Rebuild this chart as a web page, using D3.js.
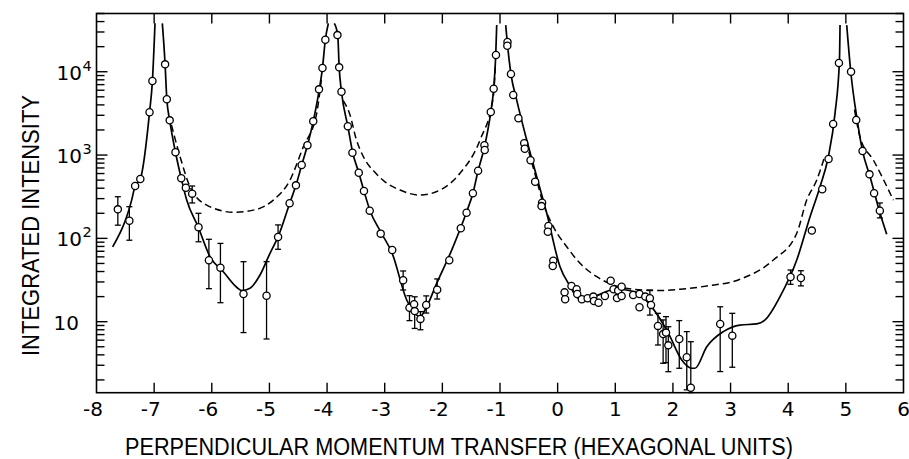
<!DOCTYPE html>
<html><head><meta charset="utf-8">
<script src="https://cdn.jsdelivr.net/npm/d3@7/dist/d3.min.js"></script>
<style>body{margin:0;background:#fff}svg{display:block}</style>
</head><body><svg id="c" width="909" height="459"></svg>
<script>
// ---------- data ----------
const xTickValues = [-8,-7,-6,-5,-4,-3,-2,-1,0,1,2,3,4,5,6];
const yDecades = [10, 100, 1000, 10000];
const yDecadeExp = ["", "2", "3", "4"];
const xTitle = "PERPENDICULAR MOMENTUM TRANSFER (HEXAGONAL UNITS)";
const yTitle = "INTEGRATED INTENSITY";

// observed points: momentum transfer q and intensity
const obsQ = [-7.63,-7.43,-7.33,-7.24,-7.08,-7.03,-6.81,-6.78,-6.73,-6.63,-6.53,-6.45,-6.34,-6.23,-6.05,-5.85,-5.45,-5.05,-4.85,
  -4.65,-4.54,-4.44,-4.34,-4.24,-4.14,-4.08,-4.03,-3.82,-3.79,-3.75,-3.64,-3.56,-3.45,-3.36,-3.26,-3.07,-2.87,-2.68,-2.57,-2.49,
  -2.48,-2.38,-2.28,-2.09,-1.88,-1.68,-1.58,-1.47,-1.38,-1.27,-1.265,-1.16,-1.11,-1.07,-0.87,-0.873,-0.81,-0.77,-0.68,-0.58,
  -0.57,-0.47,-0.39,-0.27,-0.28,-0.16,-0.17,-0.075,-0.085,0.12,0.13,0.24,0.33,0.34,0.42,0.52,0.62,0.63,0.71,0.82,
  0.92,0.97,1.03,1.05,1.11,1.11,1.31,1.42,1.42,1.52,1.60,1.62,1.74,1.83,1.88,1.92,2.11,2.24,2.31,2.82,
  3.03,4.04,4.22,4.41,4.59,4.70,4.78,4.88,5.09,5.18,5.29,5.41,5.49,5.59];
const obsI = [223,163,425,515,3260,7730,12270,4670,2610,1080,526,405,344,136,54.6,44.5,21.5,20.5,104,
  264,433,759,1309,2540,6150,11080,24200,27540,11290,5750,2215,1067,614,370,215,114,72.4,31.4,14.7,16.2,
  13.4,10.8,15.9,24.2,54.6,132,203,348,649,1309,1148,3280,6250,15850,22700,20500,9380,5250,2760,1383,
  1192,865,479,268,244,141,120,54,46.6,22.5,18.6,26.8,24.5,21.5,18.6,19.1,20.0,17.7,16.9,20.3,
  31.0,24.5,19.2,23.6,26.3,20.3,20.9,14.9,21.5,20.0,19.1,15.9,8.9,7.1,7.4,5.2,6.2,3.74,1.61,9.4,
  6.8,34.4,33.4,124,388,896,2355,12710,10000,2630,1117,587,348,215];

// error bars: q, low, high
const errQ    = [-7.63,-7.43,-6.34,-6.23,-6.05,-5.85,-5.45,-5.05,-4.85,-2.68,-2.57,-2.48,-2.38,-2.28,-2.09,
  1.60,1.74,1.83,1.88,1.92,2.11,2.24,2.31,2.82,3.03,4.04,4.22,5.59];
const errLow  = [144,95,266,91,24.9,16.9,7.4,6.2,74,24,10.3,8.3,8.0,12.7,18.7,
  12.0,5.25,3.17,3.22,2.51,2.76,1.52,1.41,2.52,2.84,28.1,26.9,176];
const errHigh = [316,240,425,200,97.5,87,52.5,52.5,145,40.6,20.5,19.9,13.2,20.4,32.6,
  24,12.6,10.5,11.5,8.7,10.3,7.6,5.75,15.1,12.6,41.7,40.9,266];

// solid (fitted) curve, in separate branches
const solidQ = [
  [-7.72,-7.39,-7.33,-7.24,-7.08,-7.03,-6.985],
  [-6.858,-6.81,-6.78,-6.73,-6.63,-6.53,-6.435,-6.234,-6.031,-5.80,-5.568,-5.481,-5.337,-5.163,-4.99,-4.851,-4.648,-4.54,-4.44,-4.34,-4.24,-4.135,-4.08,-4.03,-3.978],
  [-3.874,-3.815,-3.79,-3.75,-3.64,-3.555,-3.45,-3.36,-3.255,-3.07,-2.87,-2.618,-2.445,-2.388,-2.301,-2.098,-1.838,-1.577,-1.47,-1.38,-1.27,-1.16,-1.11,-1.074,-1.057],
  [-0.901,-0.87,-0.81,-0.71,-0.536,-0.363,-0.189,0.041,0.215,0.359,0.649,0.995,1.342,1.603,1.92,2.153,2.327,2.383,2.587,2.875,3.164,3.454,3.598,3.858,4.148,4.379,4.552,4.696,4.812,4.889,4.899],
  [5.015,5.085,5.197,5.29,5.42,5.593,5.709]
];
const solidI = [
  [79,288,425,515,3260,7730,38100],
  [38100,12270,4670,2610,1080,526,288,136,60.3,39.8,25.9,23.6,25.2,36.3,66.2,104,264,433,759,1309,2540,6150,11080,24200,38100],
  [38100,27540,11290,5750,2215,1067,614,370,215,120,66,18.2,12.0,11.5,13.8,28.9,72.4,210,348,649,1250,3280,6250,15850,36300],
  [36300,21000,9380,4570,1514,550,200,45.7,26.8,19.1,20.3,24.5,22.9,15.9,7.3,3.47,2.76,2.76,5.0,7.6,9.1,9.4,10.5,20,55,182,417,955,3170,13800,36300],
  [36300,10000,2630,1117,550,200,112]
];

// dashed curve, in separate branches
const dashQ = [
  [-6.70,-6.55,-6.378,-6.088,-5.627,-5.221,-4.933,-4.643,-4.412,-4.18,-4.10],
  [-3.72,-3.60,-3.50,-3.35,-3.17,-3.00,-2.735,-2.388,-2.041,-1.694,-1.347,-1.116,-1.08],
  [-0.50,-0.37,-0.248,-0.075,0.158,0.388,0.678,0.966,1.313,1.719,2.123,2.587,3.164,3.742,4.148,4.321,4.495,4.62],
  [5.15,5.25,5.477,5.824]
];
const dashI = [
  [2300,955,417,251,206,223,288,501,1259,3170,8000],
  [4500,3000,1600,900,620,480,380,331,380,604,1514,5010,12000],
  [1100,520,260,138,79.4,50.2,34.7,27.5,24.5,23.6,24.5,26.8,32.3,55,115,288,501,900],
  [3500,1600,871,288]
];

// ---------- drawing ----------
const svg = d3.select("#c");
const X0 = 96.5, X1 = 903.5, Y0 = 392.7, Y1 = 13.5;
const x = d3.scaleLinear().domain([-8, 6]).range([X0, X1]);
const y = d3.scaleLog().domain([1.405, 50000]).range([Y0, Y1]);
const numFont = "'DejaVu Sans', sans-serif";
const titleFont = "'Liberation Sans', Arial, sans-serif";

// frame
svg.append("rect").attr("x", X0).attr("y", Y1).attr("width", X1 - X0).attr("height", Y0 - Y1)
  .attr("fill", "none").attr("stroke", "#000").attr("stroke-width", 1.6);

// x ticks (bottom & top, inward)
const g = svg.append("g").attr("stroke", "#000").attr("stroke-width", 1.4);
xTickValues.filter(v => v > -8 && v < 6).forEach(v => {
  g.append("line").attr("x1", x(v)).attr("x2", x(v)).attr("y1", Y0).attr("y2", Y0 - 10);
  g.append("line").attr("x1", x(v)).attr("x2", x(v)).attr("y1", Y1).attr("y2", Y1 + 10);
});
// y ticks (left & right, inward), log minor ticks
[1, 10, 100, 1000, 10000].forEach(d => {
  for (let m = 1; m <= 9; m++) {
    const v = d * m;
    if (v < 1.405 || v > 50000) continue;
    const len = m === 1 ? 11 : 8;
    g.append("line").attr("x1", X0).attr("x2", X0 + len).attr("y1", y(v)).attr("y2", y(v));
    g.append("line").attr("x1", X1).attr("x2", X1 - len).attr("y1", y(v)).attr("y2", y(v));
  }
});

// x tick labels
xTickValues.forEach(v => {
  const t = svg.append("text").attr("font-family", numFont).attr("font-size", 20)
    .attr("y", 416).attr("fill", "#000");
  if (v < 0) {
    t.attr("text-anchor", "end").attr("x", x(v) + 6.5).text("-" + Math.abs(v));
  } else {
    t.attr("text-anchor", "middle").attr("x", x(v)).text(String(v));
  }
});

// y tick labels
yDecades.forEach((d, i) => {
  const yy = y(d);
  const e = yDecadeExp[i];
  svg.append("text").attr("font-family", numFont).attr("font-size", 20)
    .attr("text-anchor", "end").attr("x", e ? 82 : 79).attr("y", yy + 8).text("10");
  if (e) {
    svg.append("text").attr("font-family", numFont).attr("font-size", 14.5)
      .attr("text-anchor", "start").attr("x", 82.5).attr("y", yy - 1).text(e);
  }
});

// titles
svg.append("text").attr("font-family", titleFont).attr("font-size", 23)
  .attr("text-anchor", "middle").attr("x", 459).attr("y", 455)
  .attr("textLength", 668).attr("lengthAdjust", "spacingAndGlyphs").text(xTitle);
svg.append("text").attr("font-family", titleFont).attr("font-size", 23)
  .attr("text-anchor", "middle").attr("transform", "translate(39,225.5) rotate(-90)")
  .attr("textLength", 261).attr("lengthAdjust", "spacingAndGlyphs").text(yTitle);

// curves
const line = d3.line().x(d => x(d[0])).y(d => y(d[1])).curve(d3.curveMonotoneX);
solidQ.forEach((qs, k) => {
  svg.append("path").attr("d", line(qs.map((q, j) => [q, solidI[k][j]])))
    .attr("fill", "none").attr("stroke", "#000").attr("stroke-width", 1.7);
});
dashQ.forEach((qs, k) => {
  svg.append("path").attr("d", line(qs.map((q, j) => [q, dashI[k][j]])))
    .attr("fill", "none").attr("stroke", "#000").attr("stroke-width", 1.5)
    .attr("stroke-dasharray", "7,4");
});

// error bars
const eb = svg.append("g").attr("stroke", "#000").attr("stroke-width", 1.3);
errQ.forEach((q, i) => {
  const xx = x(q), yl = Math.min(y(Math.max(errLow[i], 1.405)), Y0), yh = y(errHigh[i]);
  eb.append("line").attr("x1", xx).attr("x2", xx).attr("y1", yl).attr("y2", yh);
  eb.append("line").attr("x1", xx - 3).attr("x2", xx + 3).attr("y1", yh).attr("y2", yh);
  if (errLow[i] > 1.405) eb.append("line").attr("x1", xx - 3).attr("x2", xx + 3).attr("y1", yl).attr("y2", yl);
});

// points
svg.append("g").selectAll("circle").data(obsQ.map((q, i) => [q, obsI[i]])).join("circle")
  .attr("cx", d => x(d[0])).attr("cy", d => y(d[1])).attr("r", 3.6)
  .attr("fill", "#fff").attr("stroke", "#000").attr("stroke-width", 1.3);
</script></body></html>
